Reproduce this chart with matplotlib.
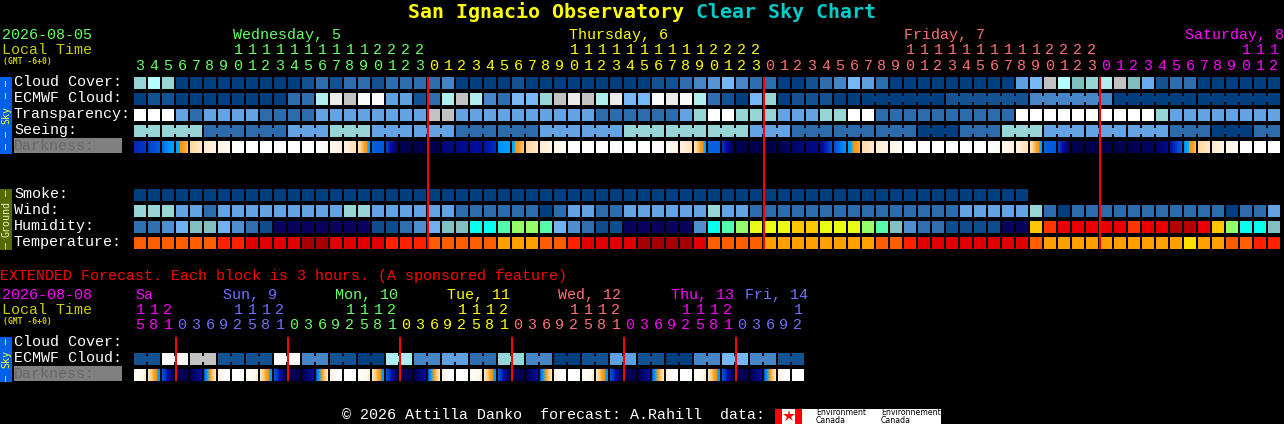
import numpy as np
import matplotlib
matplotlib.use("Agg")
import matplotlib.pyplot as plt
from matplotlib.colors import LinearSegmentedColormap, Normalize

# ---------- data ----------
cloud_cover = [60,75,60,0,0,0,0,0,0,0,0,0,10,20,10,20,20,10,20,20,20,
               20,30,0,0,0,0,10,0,0,0,0,0,0,0,0,0,10,10,20,30,35,50,30,20,
               20,0,0,10,20,30,50,40,20,0,0,0,0,0,0,0,0,0,40,50,80,75,65,60,
               70,80,65,45,10,20,20,0,0,0,0,0,0]
ecmwf_cloud = [0,10,10,0,0,0,0,0,0,0,0,20,20,70,90,80,100,100,40,40,10,
               20,70,80,70,30,20,50,50,60,80,90,80,70,90,50,50,100,90,100,70,20,10,0,50,
               60,0,10,10,10,0,0,0,0,0,0,0,0,10,10,10,10,10,10,30,30,30,30,30,30,
               0,0,0,0,0,0,0,0,0,0,0,0]
ecmwf_joined_from = [52,58,64,70,76]
transparency = [4,4,4,2,1,2,2,2,2,1,1,1,1,2,2,2,2,2,2,2,2,
                5,5,2,2,2,2,2,2,2,2,2,2,1,1,1,1,1,1,2,3,4,4,3,3,
                3,2,2,2,3,3,4,4,1,1,1,1,1,1,1,1,1,1,4,4,4,4,4,4,
                4,4,4,4,3,2,2,2,2,2,2,2,2]
seeing_blocks = [(2,3),(3,3),(3,1),(3,1),(3,2),(3,3),(3,2),(3,2),(3,1),(3,1),(3,2),(3,2),
                 (3,3),(3,3),(3,3),(3,2),(3,1),(3,1),(3,1),(3,0),(3,1),(3,3),(3,2),(3,2),
                 (3,2),(3,1),(3,0),(2,1)]
smoke = [0]*64
wind = [3,3,3,2,2,1,2,2,2,2,2,2,2,2,2,3,3,2,2,2,2,
        2,2,1,1,1,1,1,1,0,1,2,2,1,1,2,2,2,2,2,2,3,2,2,1,
        1,1,1,1,1,1,1,1,1,1,1,1,1,1,2,2,2,2,2,3,1,0,1,1,
        1,1,1,1,1,1,1,1,1,0,1,1,2]
humidity = [30,30,35,40,45,45,40,35,30,25,0,0,0,0,0,0,0,25,25,30,35,
            40,45,45,50,50,55,60,60,55,40,35,30,25,25,0,0,0,0,0,35,50,55,60,65,
            65,65,70,70,65,65,65,60,55,45,35,30,30,25,25,25,25,0,0,70,80,85,85,85,
            85,85,80,85,85,90,90,85,70,60,50,50,45]
temperature = [2,2,2,2,2,2,3,3,4,4,4,4,5,5,4,4,4,4,3,3,3,
               2,2,2,2,2,1,1,1,2,2,3,4,4,4,4,5,5,5,5,4,2,2,2,2,
               1,1,1,1,1,1,1,1,2,2,3,4,4,4,4,4,4,4,4,2,1,1,1,1,
               1,1,1,1,1,1,0,1,1,2,2,3,3]
dark_left = [5.7,5.4,4.9,4.2,2.0,1.3,0.8,0.2,0,0,0,0,0,0,0.4,0.9,1.6,5.0,5.4,7,7,
             7,6.5,6.3,6.2,6.0,4.5,4.0,2.0,1.2,0.7,0.1,0,0,0,0,0,0,0.3,0.9,1.6,5.0,5.5,7,7,
             7,7,6.7,6.5,6.3,5.2,4.2,1.8,1.2,0.7,0,0,0,0,0,0,0,0.4,0.9,1.6,5.0,5.4,7,7,
             7,7,7,6.8,6.8,6.0,4.5,2.0,1.3,0.7,0,0,0]
dark_right = [5.5,5.0,4.1,2.5,1.4,0.9,0.3,0,0,0,0,0,0,0.4,0.9,1.6,4.1,5.1,7,7,7,
              7,6.4,6.3,6.1,5.6,4.1,2.3,1.3,0.8,0.2,0,0,0,0,0,0,0.3,0.8,1.5,4.1,5.0,7,7,7,
              7,6.7,6.5,6.3,5.2,4.4,2.7,1.2,0.7,0.2,0,0,0,0,0,0,0.4,0.9,1.6,4.1,5.1,7,7,7,
              7,7,6.8,6.8,6.2,5.0,2.5,1.4,0.8,0.2,0,0,0]

ext_ecmwf = [10,100,80,10,10,100,30,10,0,70,30,40,20,60,30,0,10,40,10,0,30,50,30,10]
ext_dark_left = [0,1.4,5.1,7,7,5,0.8,0]*6
ext_dark_right = [0.8,4.4,7,7,6,1.3,0,0]*6

hours_units = list("345678901234567890123"
                   "012345678901234567890123"
                   "012345678901234567890123"
                   "0123456789012")
hours_tens = list("       11111111112222"[:21]
                  + "          11111111112222"
                  + "          11111111112222"
                  + "          111")
ext_units = list("581"+"03692581"*5+"03692")
ext_tens = list("112"+"    1112"*5+"    1")
main_days = [("Wednesday, 5",233),("Thursday, 6",569),("Friday, 7",904),("Saturday, 8",1185)]
ext_days = [("Sa",135),("Sun, 9",223),("Mon, 10",335),("Tue, 11",447),("Wed, 12",558),("Thu, 13",671),("Fri, 14",745)]

GREEN,YEL,SAL,MAG,PER = "#66FF66","#FFFF00","#FF7070","#FF00FF","#7070FF"

cloud_pal = {0:"#003F7F",10:"#135393",20:"#2E6EAE",30:"#4786C6",35:"#5695D5",40:"#5FA0E0",45:"#6AABEB",
             50:"#77B7F7",60:"#95D5D5",65:"#80BEBE",70:"#AEEEEE",75:"#B4FFFF",80:"#C2C2C2",90:"#EAEAEA",100:"#FBFBFB"}
qual_pal = {0:"#003F7F",1:"#2C6CAC",2:"#63A3E3",3:"#95D5D5",4:"#FFFFFF",5:"#C2C2C2"}
hum_pal = {0:"#08035D",25:"#0D4D8D",30:"#3070B0",35:"#4E8ECE",40:"#71B1F1",45:"#80C0C0",50:"#09FEED",
           55:"#55FAAD",60:"#94FE6A",65:"#EAFB16",70:"#FEC600",75:"#FC8602",80:"#FE3401",85:"#EA0000",90:"#B70000"}
temp_pal = {0:"#FFDE00",1:"#FF9F00",2:"#FF5E00",3:"#FF2000",4:"#E10000",5:"#A70000"}
dark_stops = [(0,"#FFFFFF"),(1,"#FFF0DC"),(2,"#FFD79C"),(3,"#FFA020"),(3.6,"#FF9000"),(3.7,"#00B0FF"),
              (4.5,"#0090F8"),(5,"#0060E0"),(6,"#0010A8"),(7,"#00004C")]

# ---------- layout ----------
X0, PITCH, CELL = 134, 14, 12
MONO = "Liberation Mono"
cmap = LinearSegmentedColormap.from_list("dark", [(v/7, c) for v, c in dark_stops], N=512)
norm = Normalize(0, 7)

fig = plt.figure(figsize=(12.84, 4.24), dpi=100, facecolor="black")
ax = fig.add_axes([0, 0, 1, 1], facecolor="black")
ax.set_xlim(0, 1284); ax.set_ylim(424, 0); ax.axis("off")

def label(x, y, s, color="white", px=15, **kw):
    ax.text(x, y-1, s, color=color, fontsize=px*0.72, family=kw.pop("family", MONO), va="baseline", ha=kw.pop("ha","left"), **kw)

def cells(values, pal, top):
    for i, v in enumerate(values):
        ax.bar(X0+i*PITCH, CELL, CELL, bottom=top, align="edge", color=pal[v], lw=0)

def necks(index, color, top):
    ax.bar(X0+index*PITCH+CELL, 6, PITCH-CELL, bottom=top+3, align="edge", color=color, lw=0)

def dark_cells(left, right, top):
    for i, (a, b) in enumerate(zip(left, right)):
        x = X0+i*PITCH
        ax.imshow(np.linspace(a, b, CELL)[None, :], extent=(x, x+CELL, top+CELL, top), cmap=cmap, norm=norm,
                  aspect="auto", interpolation="nearest", zorder=2)
    ax.set_xlim(0, 1284); ax.set_ylim(424, 0)

def red(index, top, bottom):
    ax.bar(X0+index*PITCH-1, bottom-top, 2, bottom=top, align="edge", color="#FF0000", lw=0, zorder=5)

# title
ax.text(408, 18, "San Ignacio Observatory", color="#FFFF00", fontsize=14.4, family="DejaVu Sans Mono", weight="bold", va="baseline")
ax.text(696, 18, "Clear Sky Chart", color="#00CCCC", fontsize=14.4, family="DejaVu Sans Mono", weight="bold", va="baseline")

# main header
label(2, 40, "2026-08-05", GREEN)
label(2, 55, "Local Time", "#CCCC00")
label(3, 65, "(GMT -6+0)", "#CCCC00", px=8, weight="bold", family="DejaVu Sans Mono")
for (s, x), c in zip(main_days, [GREEN, YEL, SAL, MAG]):
    label(x, 40, s, c)
def day_colour(i):
    return GREEN if i < 21 else YEL if i < 45 else SAL if i < 69 else MAG
for i, (u, t) in enumerate(zip(hours_units, hours_tens)):
    cx = X0+i*PITCH+CELL/2
    label(cx, 71, u, day_colour(i), ha="center")
    if t != " ":
        label(cx, 55, t, day_colour(i), ha="center")

# main rows
for y, s in [(87,"Cloud Cover:"),(103,"ECMWF Cloud:"),(119,"Transparency:"),(135,"Seeing:"),
             (199,"Smoke:"),(215,"Wind:"),(231,"Humidity:"),(247,"Temperature:")]:
    label(14, y, s)
ax.bar(14, 15, 108, bottom=138, align="edge", color="#808080", lw=0)
label(14, 151, "Darkness:", "#686868")

cells(cloud_cover, cloud_pal, 77)
cells(ecmwf_cloud, cloud_pal, 93)
for start in ecmwf_joined_from:
    for j in range(start, min(start+5, 81)):
        necks(j, cloud_pal[ecmwf_cloud[j]], 93)
cells(transparency, qual_pal, 109)
pos = 0
for n, v in seeing_blocks:
    for j in range(pos, pos+n):
        ax.bar(X0+j*PITCH, CELL, CELL, bottom=125, align="edge", color=qual_pal[v], lw=0)
        if j < pos+n-1:
            necks(j, qual_pal[v], 125)
    pos += n
dark_cells(dark_left, dark_right, 141)
cells(smoke, {0:"#003F7F"}, 189)
cells(wind, qual_pal, 205)
cells(humidity, hum_pal, 221)
cells(temperature, temp_pal, 237)
for i in (21, 45, 69):
    red(i, 77, 249)

# side bars
ax.bar(0, 77, 12, bottom=77, align="edge", color="#0060E8", lw=0)
ax.bar(0, 61, 12, bottom=189, align="edge", color="#556B00", lw=0)
ax.bar(0, 45, 12, bottom=337, align="edge", color="#0060E8", lw=0)
def side(y, s, c):
    ax.text(6, y, s, color=c, fontsize=7.2, family="DejaVu Sans Mono", rotation=90, ha="center", va="center")
for y, s in [(89,"\u2013 \u2013"),(115,"Sky"),(140,"\u2013 \u2013")]:
    side(y, s, "#FFFF33")
for y, s in [(193,"\u2013"),(219,"Ground"),(245,"\u2013")]:
    side(y, s, "#F0F0D0")
for y, s in [(341,"\u2013"),(359,"Sky"),(378,"\u2013")]:
    side(y, s, "#FFFF33")

# extended
label(0, 281, "EXTENDED Forecast. Each block is 3 hours. (A sponsored feature)", "#FF0000")
label(2, 300, "2026-08-08", MAG)
label(2, 315, "Local Time", "#CCCC00")
label(3, 325, "(GMT -6+0)", "#CCCC00", px=8, weight="bold", family="DejaVu Sans Mono")
for (s, x), c in zip(ext_days, [MAG, PER, GREEN, YEL, SAL, MAG, PER]):
    label(x, 300, s, c)
def ext_colour(k):
    return [MAG, PER, GREEN, YEL, SAL, MAG, PER][(k+5)//8]
for k, (u, t) in enumerate(zip(ext_units, ext_tens)):
    cx = X0+k*PITCH+CELL/2
    label(cx, 330, u, ext_colour(k), ha="center")
    if t != " ":
        label(cx, 315, t, ext_colour(k), ha="center")
for y, s in [(347,"Cloud Cover:"),(363,"ECMWF Cloud:")]:
    label(14, y, s)
ax.bar(14, 15, 108, bottom=366, align="edge", color="#808080", lw=0)
label(14, 379, "Darkness:", "#686868")
for g, v in enumerate(ext_ecmwf):
    for j in (2*g, 2*g+1):
        ax.bar(X0+j*PITCH, CELL, CELL, bottom=353, align="edge", color=cloud_pal[v], lw=0)
    necks(2*g, cloud_pal[v], 353)
dark_cells(ext_dark_left, ext_dark_right, 369)
for k in (3, 11, 19, 27, 35, 43):
    red(k, 337, 381)

# footer
label(342, 420, "\u00a9 2026 Attilla Danko  forecast: A.Rahill  data:")
ax.bar(775, 15, 166, bottom=409, align="edge", color="#FFFFFF", lw=0)
ax.bar(775, 15, 7, bottom=409, align="edge", color="#FF0000", lw=0)
ax.bar(795, 15, 7, bottom=409, align="edge", color="#FF0000", lw=0)
ax.plot([788.5], [416], marker="*", ms=9, color="#FF0000", mew=0)
for x, a in [(816,"Environment"),(881,"Environnement")]:
    ax.text(x, 415, a, color="black", fontsize=5.6, family="DejaVu Sans", va="baseline")
    ax.text(x, 423, "Canada", color="black", fontsize=5.6, family="DejaVu Sans", va="baseline")

ax.set_xlim(0, 1284); ax.set_ylim(424, 0)
fig.savefig("out.png", dpi=100, facecolor="black")
